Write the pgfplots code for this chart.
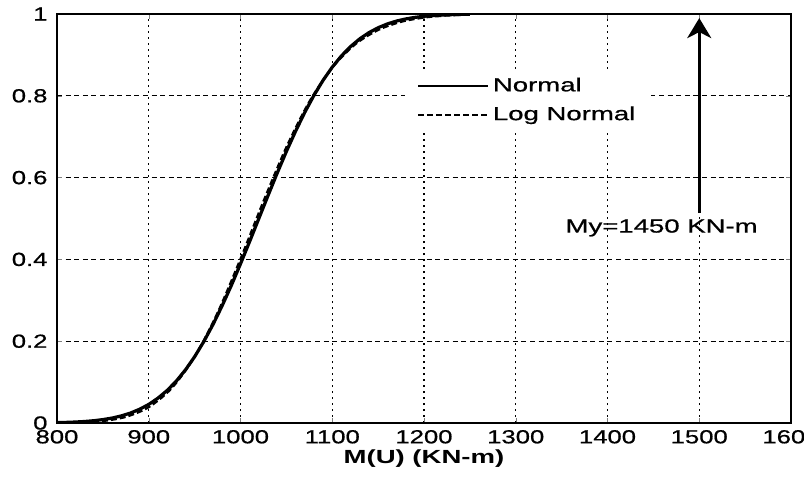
\documentclass[border=0pt]{standalone}
\usepackage{fontspec}
\setmainfont{Liberation Sans}
\newfontfamily\heavy{Liberation Sans}[FakeBold=0.6]
\usepackage{graphicx}
\usepackage{pgfplots}
\pgfplotsset{compat=1.18}
\usetikzlibrary{arrows.meta}

\pgfplotstableread{
x      p
800    0.00097
810    0.00155
820    0.00242
830    0.00372
840    0.00562
850    0.00833
860    0.0121
870    0.0173
880    0.0243
890    0.0336
900    0.0455
910    0.0607
920    0.0795
930    0.1024
940    0.1299
950    0.1621
960    0.1991
970    0.2407
980    0.2867
990    0.3362
1000   0.3890
1010   0.4440
1020   0.5000
1030   0.5560
1040   0.6110
1050   0.6638
1060   0.7133
1070   0.7593
1080   0.8009
1090   0.8379
1100   0.8701
1110   0.8976
1120   0.9205
1130   0.9393
1140   0.9545
1150   0.9664
1160   0.9757
1170   0.9827
1180   0.9879
1190   0.9917
1200   0.9944
1210   0.9963
1220   0.9976
1230   0.9984
1240   0.9990
1250   0.9994
}\normaldata

\pgfplotstableread{
x      p
800    0.00027
825    0.00127
850    0.0048
875    0.0150
900    0.0387
925    0.0851
950    0.1616
975    0.2696
1000   0.4013
1025   0.5420
1050   0.6744
1075   0.7855
1100   0.8688
1125   0.9258
1150   0.9608
1175   0.9808
1200   0.9912
1225   0.9962
1250   0.9985
}\lognormaldata

\begin{document}
\begin{tikzpicture}
\begin{axis}[
    name=ax,
    scale only axis,
    width=367pt, height=204.5pt,
    xmin=800, xmax=1600,
    ymin=0, ymax=1,
    xtick={800,900,...,1600},
    ytick={0,0.2,...,1},
    /pgf/number format/assume math mode=true,
    /pgf/number format/1000 sep={},
    yticklabel style={/pgf/number format/fixed, /pgf/number format/precision=1},
    tick label style={font=\heavy\fontsize{9.5}{11}\selectfont, xscale=1.35},
    xlabel={\scalebox{1.45}[1]{\bfseries M(U) (KN-m)}},
    xlabel style={font=\fontsize{9.5}{11}\selectfont, yshift=4pt},
    tick align=inside,
    major tick length=2.5pt,
    axis line style={line width=0.9pt},
    xmajorgrids, ymajorgrids,
    x grid style={black, line width=0.7pt, dash pattern=on 1.2pt off 1.8pt},
    y grid style={black, line width=0.6pt, dash pattern=on 2.5pt off 1.8pt},
    legend style={draw=none, fill=white, at={(0.474,0.865)}, anchor=north west,
        font=\heavy\fontsize{9.5}{11}\selectfont, row sep=2pt, inner xsep=6pt},
    legend cell align=left,
    legend image code/.code={\draw[#1, line width=0.8pt] (0pt,0pt) -- (35pt,0pt);},
]
\addplot[black, line width=1.6pt] table[x=x, y=p] {\normaldata};
\addlegendentry{\scalebox{1.45}[1]{Normal}}
\addplot[black, line width=1.1pt, dash pattern=on 3pt off 1.5pt, smooth] table[x=x, y=p] {\lognormaldata};
\addlegendentry{\scalebox{1.45}[1]{Log Normal}}
\draw[line width=1.4pt, -{Stealth[length=10pt, width=12pt, inset=3pt]}]
    (axis cs:1500,0.513) -- (axis cs:1500,0.99);
\node[font=\heavy\fontsize{9.5}{11}\selectfont] at (axis cs:1459,0.477)
    {\scalebox{1.45}[1]{My=1450 KN-m}};
\end{axis}
\pgfresetboundingbox
\path[use as bounding box] ([xshift=-28.5pt, yshift=-26.5pt]ax.south west)
    rectangle ([xshift=6.5pt, yshift=7pt]ax.north east);
\end{tikzpicture}
\end{document}
